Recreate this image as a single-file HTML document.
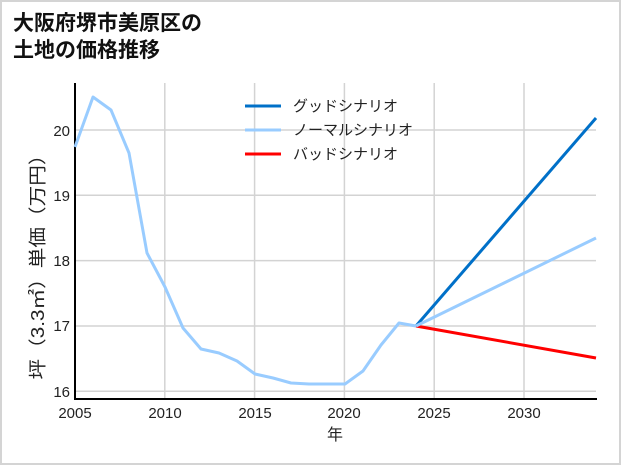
<!DOCTYPE html>
<html><head><meta charset="utf-8"><style>
html,body{margin:0;padding:0;background:#fff;}
svg{display:block;}
text{font-family:"Liberation Sans","Noto Sans CJK JP",sans-serif;}
</style></head><body>
<svg width="621" height="465" viewBox="0 0 621 465" xmlns="http://www.w3.org/2000/svg">
<rect x="1" y="1" width="619" height="463" fill="#fff" stroke="#d4d4d4" stroke-width="2"/>
<text x="13" y="30" font-size="21" font-weight="bold" fill="#111">大阪府堺市美原区の</text>
<text x="13" y="57" font-size="21" font-weight="bold" fill="#111">土地の価格推移</text>
<g stroke="#d3d3d3" stroke-width="1.5">
<line x1="164.8" y1="83" x2="164.8" y2="398"/>
<line x1="254.6" y1="83" x2="254.6" y2="398"/>
<line x1="344.4" y1="83" x2="344.4" y2="398"/>
<line x1="434.2" y1="83" x2="434.2" y2="398"/>
<line x1="524" y1="83" x2="524" y2="398"/>
<line x1="75" y1="130" x2="596" y2="130"/>
<line x1="75" y1="195.3" x2="596" y2="195.3"/>
<line x1="75" y1="260.6" x2="596" y2="260.6"/>
<line x1="75" y1="326" x2="596" y2="326"/>
<line x1="75" y1="391.3" x2="596" y2="391.3"/>
</g>
<line x1="75" y1="83" x2="75" y2="399" stroke="#000" stroke-width="2"/>
<line x1="74" y1="399" x2="597" y2="399" stroke="#000" stroke-width="2"/>
<g font-size="15" fill="#222" text-anchor="end">
<text x="70" y="136">20</text><text x="70" y="201">19</text><text x="70" y="266">18</text><text x="70" y="331">17</text><text x="70" y="397">16</text>
</g>
<g font-size="15" fill="#222" text-anchor="middle">
<text x="75" y="418">2005</text><text x="165" y="418">2010</text><text x="255" y="418">2015</text><text x="344" y="418">2020</text><text x="434" y="418">2025</text><text x="524" y="418">2030</text>
<text x="335" y="440" font-size="16">年</text>
</g>
<text transform="translate(44,262) rotate(-90)" font-size="18" fill="#222" text-anchor="middle" textLength="235" lengthAdjust="spacingAndGlyphs">坪（3.3㎡）単価（万円）</text>
<g fill="none" stroke-width="3" stroke-linejoin="round">
<polyline stroke="#0070c8" points="416,326 596,118"/>
<polyline stroke="#ff0000" points="416,326 596,358"/>
<polyline stroke="#99ccff" points="416,326 596,238"/>
<polyline stroke="#99ccff" points="75,147 93,97 111,110 129,153 147,253 165,287 183,328 201,349 219,353 237,361 255,374 273,378 291,383 309,384 327,384 345,384 363,371 381,345 399,323 416,326"/>
</g>
<line x1="245" y1="106" x2="281" y2="106" stroke="#0070c8" stroke-width="3"/>
<line x1="245" y1="130" x2="281" y2="130" stroke="#99ccff" stroke-width="3"/>
<line x1="245" y1="154" x2="281" y2="154" stroke="#ff0000" stroke-width="3"/>
<g font-size="15" fill="#222">
<text x="293" y="111">グッドシナリオ</text>
<text x="293" y="135">ノーマルシナリオ</text>
<text x="293" y="159">バッドシナリオ</text>
</g>
</svg>
</body></html>
